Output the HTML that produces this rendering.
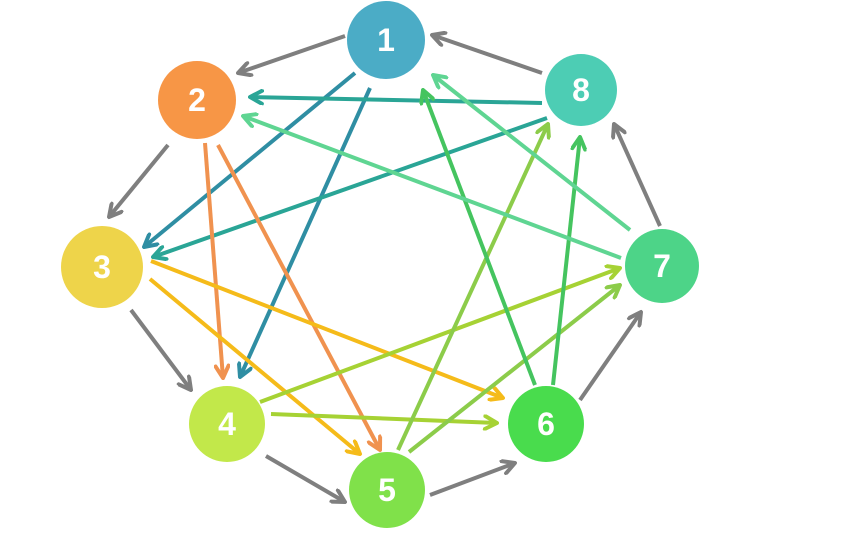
<!DOCTYPE html>
<html><head><meta charset="utf-8"><style>
body{margin:0;background:#fff;width:864px;height:535px;overflow:hidden}
svg{display:block}
text{font-family:"Liberation Sans",sans-serif;font-weight:bold;font-size:32px;fill:#fff;text-anchor:middle;dominant-baseline:central}
</style></head><body>
<svg width="864" height="535" viewBox="0 0 864 535">
<defs>
<marker id="a" viewBox="0 0 16 16" refX="14" refY="8" markerWidth="16" markerHeight="16" markerUnits="userSpaceOnUse" orient="auto">
<polyline points="2,1.5 14,8 2,14.5" fill="none" stroke="context-stroke" stroke-width="4" stroke-linecap="round" stroke-linejoin="round"/>
</marker>
</defs>
<g fill="none" stroke-width="4" marker-end="url(#a)">
<line x1="345" y1="36" x2="238" y2="73" stroke="#7f7f7f"/>
<line x1="168" y1="145" x2="109" y2="217" stroke="#7f7f7f"/>
<line x1="131" y1="310" x2="191" y2="390" stroke="#7f7f7f"/>
<line x1="266" y1="456" x2="345" y2="502" stroke="#7f7f7f"/>
<line x1="430" y1="495" x2="515" y2="463" stroke="#7f7f7f"/>
<line x1="580" y1="400" x2="641" y2="312" stroke="#7f7f7f"/>
<line x1="660" y1="226" x2="614" y2="124" stroke="#7f7f7f"/>
<line x1="542" y1="73" x2="432" y2="35" stroke="#7f7f7f"/>
<line x1="355" y1="73" x2="144" y2="247" stroke="#2f8ea3"/>
<line x1="370" y1="88" x2="240" y2="377" stroke="#2f8ea3"/>
<line x1="542" y1="103" x2="250" y2="97" stroke="#2aa596"/>
<line x1="547" y1="118" x2="153" y2="257" stroke="#2aa596"/>
<line x1="205" y1="143" x2="223" y2="378" stroke="#f0924f"/>
<line x1="218" y1="145" x2="380" y2="450" stroke="#f0924f"/>
<line x1="150" y1="279" x2="360" y2="454" stroke="#f5bb1a"/>
<line x1="151" y1="261" x2="503" y2="398" stroke="#f5bb1a"/>
<line x1="271" y1="414" x2="497" y2="423" stroke="#a6d234"/>
<line x1="260" y1="402" x2="620" y2="268" stroke="#a6d234"/>
<line x1="409" y1="452" x2="620" y2="285" stroke="#8ccc4a"/>
<line x1="398" y1="450" x2="548" y2="124" stroke="#8ccc4a"/>
<line x1="535" y1="385" x2="423" y2="90" stroke="#45c45f"/>
<line x1="553" y1="385" x2="580" y2="137" stroke="#45c45f"/>
<line x1="630" y1="230" x2="433" y2="75" stroke="#5fd592"/>
<line x1="621" y1="258" x2="243" y2="116" stroke="#5fd592"/>
</g>
<circle cx="386" cy="40" r="39" fill="#4bacc6"/><text x="386" y="40">1</text>
<circle cx="197" cy="100" r="39" fill="#f79646"/><text x="197" y="100">2</text>
<circle cx="102" cy="267" r="41" fill="#eed44a"/><text x="102" y="267">3</text>
<circle cx="227" cy="424" r="38" fill="#c2e84a"/><text x="227" y="424">4</text>
<circle cx="387" cy="490" r="38" fill="#80e14a"/><text x="387" y="490">5</text>
<circle cx="546" cy="424" r="38" fill="#49dc4d"/><text x="546" y="424">6</text>
<circle cx="662" cy="266" r="37" fill="#4dd488"/><text x="662" y="266">7</text>
<circle cx="581" cy="90" r="36" fill="#4dcdb4"/><text x="581" y="90">8</text>
</svg>
</body></html>
